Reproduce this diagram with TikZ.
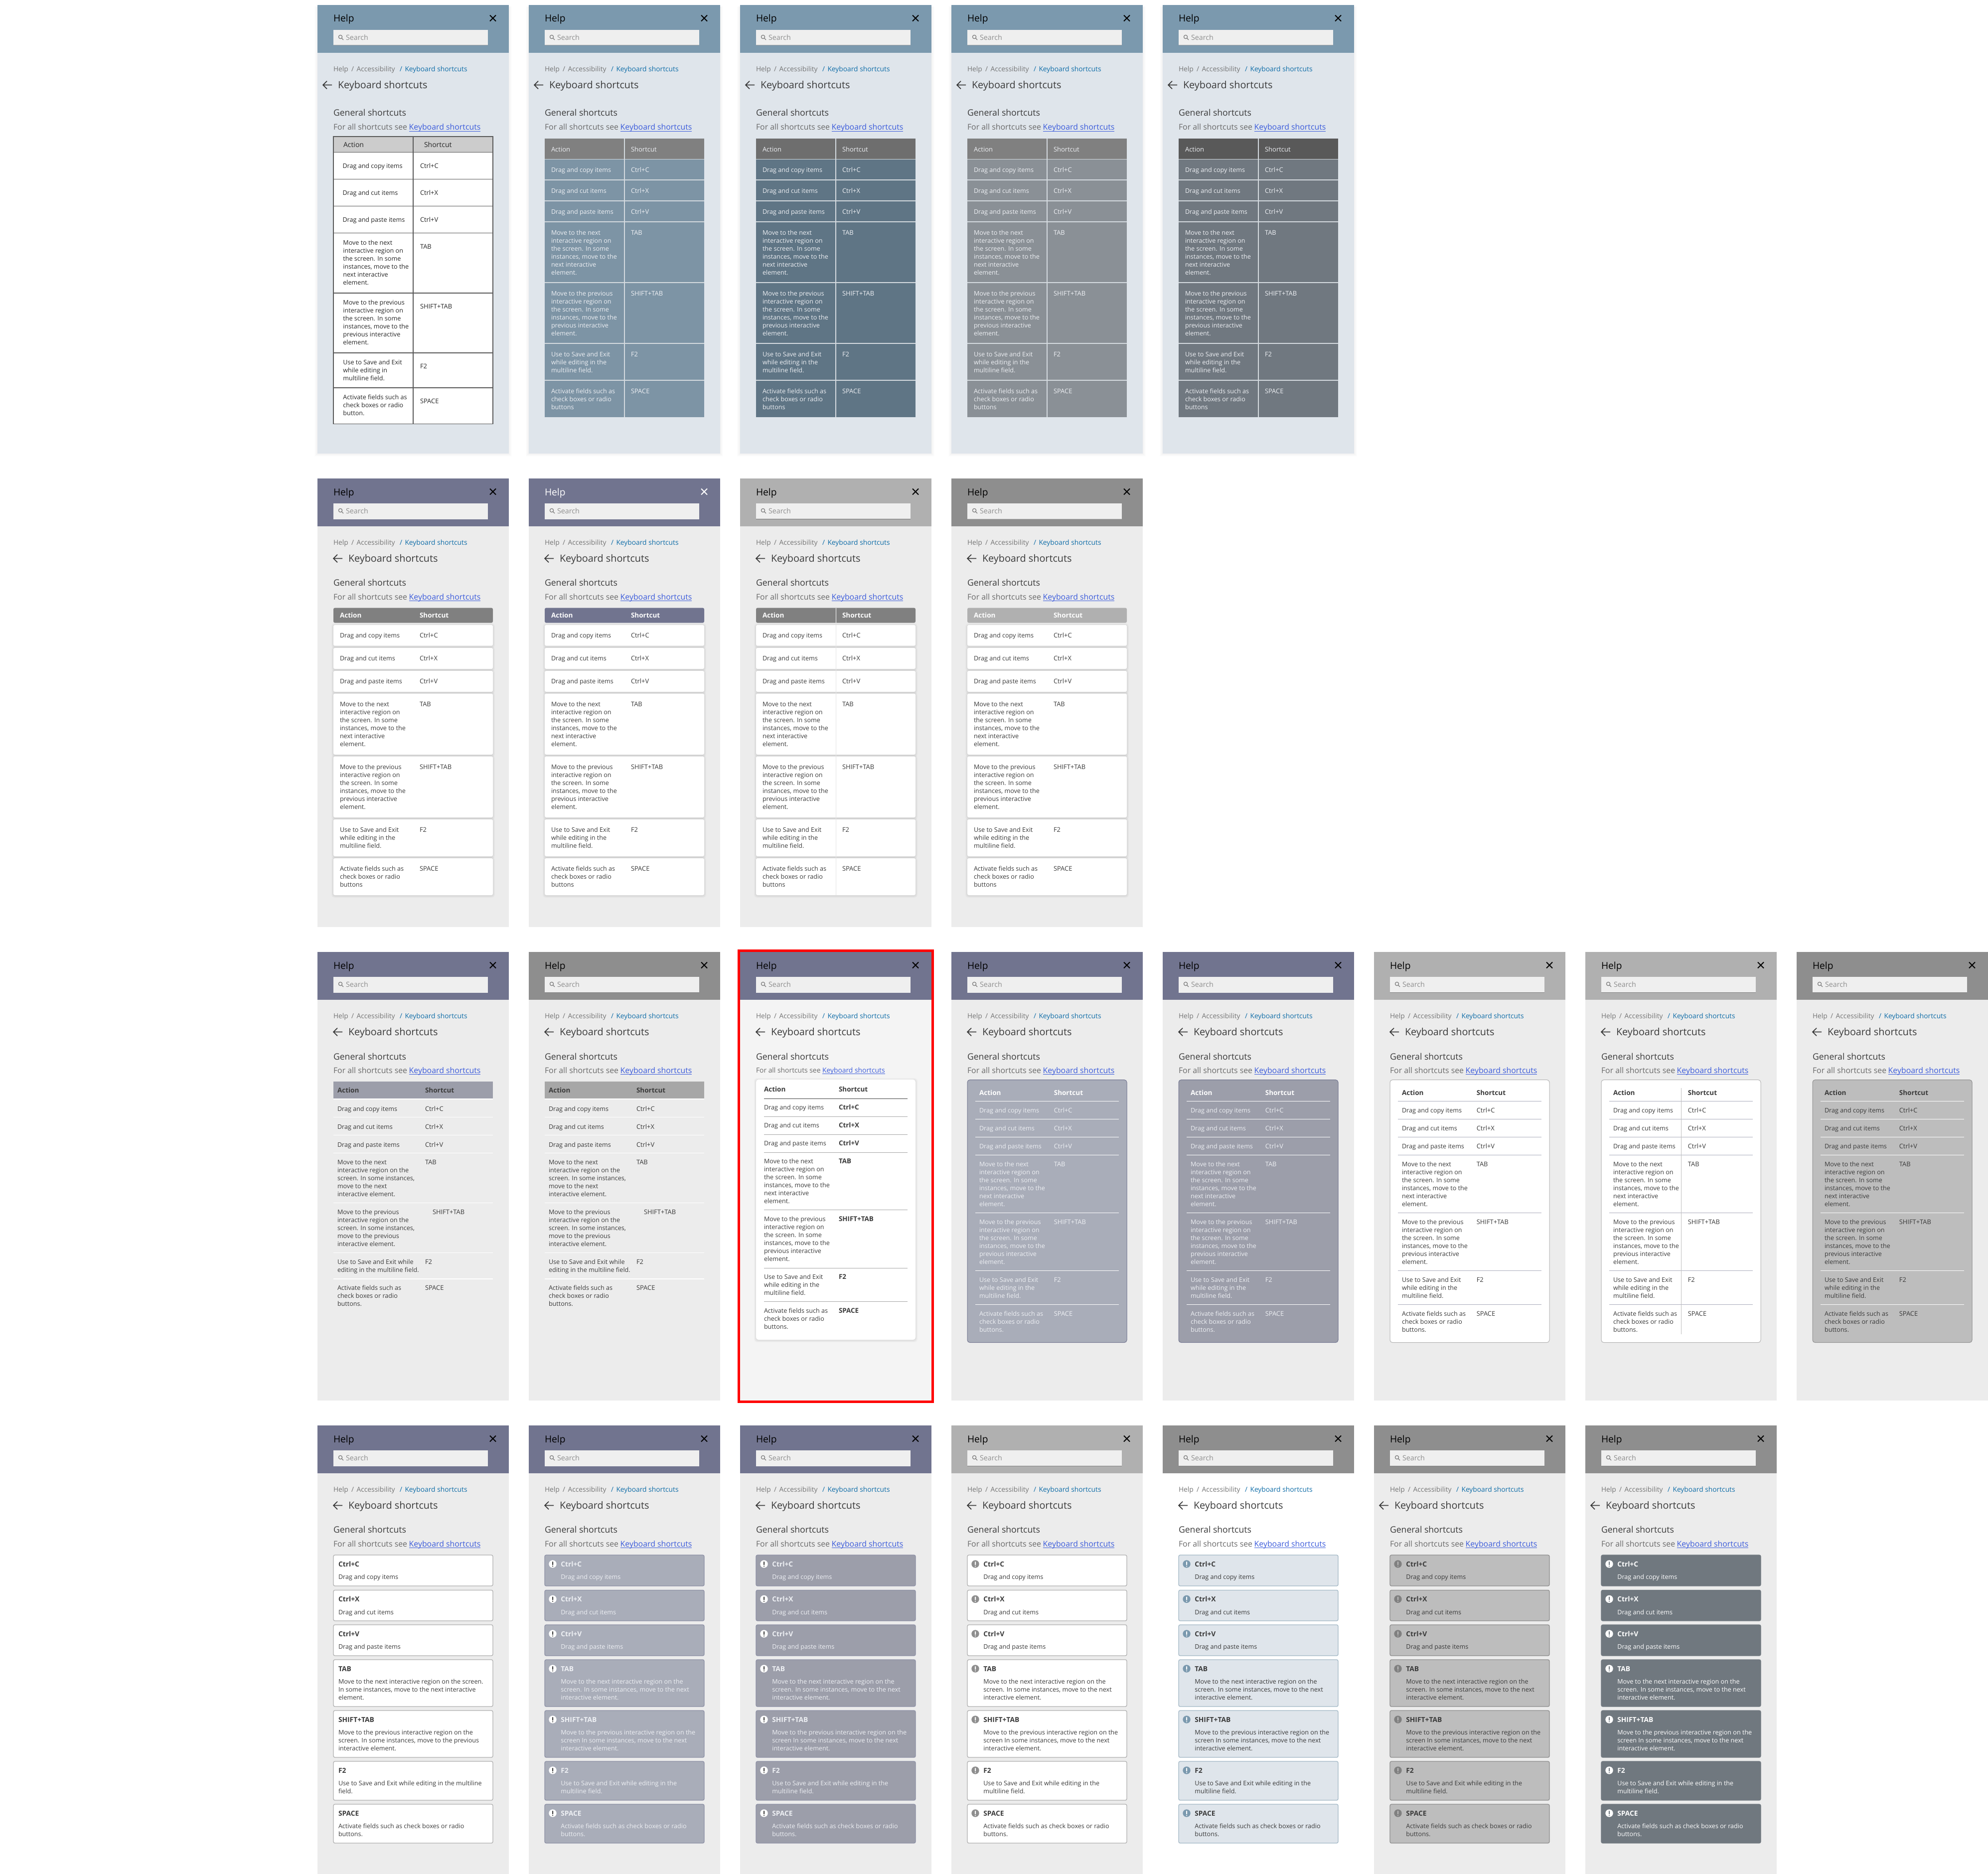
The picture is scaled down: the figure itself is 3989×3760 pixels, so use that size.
\documentclass[tikz,border=0pt]{standalone}
\usepackage{fontspec}
\setmainfont{Open Sans}
\newcounter{nn}
\definecolor{hBlue}{HTML}{7B99AE}\definecolor{bBlue}{HTML}{DFE5EB}
\definecolor{hInd}{HTML}{71748F}\definecolor{bGray}{HTML}{ECECEC}
\definecolor{hLt}{HTML}{B0B0B0}\definecolor{hDk}{HTML}{8E8E8E}
\definecolor{bHi}{HTML}{F4F4F4}\definecolor{srch}{HTML}{EFEFEF}
\definecolor{crumb}{HTML}{757575}\definecolor{crumbL}{HTML}{0F6DA8}
\definecolor{linkB}{HTML}{3B5BDB}\definecolor{ink}{HTML}{3A3A3A}
\definecolor{ink2}{HTML}{6A6A6A}\definecolor{pale}{HTML}{EEF0F4}
\definecolor{ivy}{HTML}{A9ADB9}\definecolor{ivz}{HTML}{9C9EAA}
\definecolor{gry}{HTML}{BDBDBD}\definecolor{slate}{HTML}{70787F}
\definecolor{rA}{HTML}{7D94A5}\definecolor{rB}{HTML}{5F7585}
\definecolor{rC}{HTML}{8A9096}\definecolor{rD}{HTML}{707880}
\definecolor{sepL}{HTML}{D4DADF}
\tikzset{
 tx/.style={anchor=base west,inner sep=0pt,outer sep=0pt},
 helpT/.style={tx,font=\fontsize{19.2}{24}\selectfont},
 srchT/.style={tx,font=\fontsize{14.3}{16}\selectfont,text=hDk},
 crumbT/.style={tx,font=\fontsize{13.8}{16}\selectfont,text=crumb},
 titleT/.style={tx,font=\fontsize{19.8}{24}\selectfont,text=ink},
 genT/.style={tx,font=\fontsize{17.6}{20}\selectfont,text=ink},
 mlt/.style={anchor=north west,inner sep=0pt,outer sep=0pt,align=left},
 cell/.style={font=\fontsize{12.6}{16}\selectfont,text=tcol},
 sk/.style={font=\skfont\fontsize{\sks}{16}\selectfont,text=tcol},
 hd/.style={font=\hdfont\fontsize{\hds}{16}\selectfont,text=hcol},
}
\newcommand\Txt[4][]{\stepcounter{nn}\node[tx,#1] (n\thenn) at (#2,#3) {#4};}
\newcommand\Mlt[4][]{\stepcounter{nn}\node[mlt,#1] (n\thenn) at (#2,#3+4.3-12) {\rule{0pt}{12pt}#4};}
\newcommand\SoftShadow[4]{\foreach \k in {4,3,2,1}{\fill[black,opacity=.018,rounded corners=5pt] (#1-\k,#2-\k+1) rectangle (#3+\k,#4+\k+1);}}
\def\MoveN{Move to the next\\interactive region on\\the screen. In some\\instances, move to the\\next interactive\\element.}
\def\MoveP{Move to the previous\\interactive region on\\the screen. In some\\instances, move to the\\previous interactive\\element.}
\def\UseS{Use to Save and Exit\\while editing in the\\multiline field.}
\def\Act{Activate fields such as\\check boxes or radio\\buttons.}
\def\Hshadow{0}
\def\faSize{15.85}\def\faLink{183.7}
% panel: col, top y, head, body, help colour, arrow x, search line colour, content
\newcommand\Panel[8]{%
\begin{scope}[shift={(637+424*#1,#2)}]
 \ifnum\Hshadow=1 \foreach \k in {6,5,4,3,2,1}{\fill[black,opacity=.009] (-\k,3) rectangle (384+\k,900+\k);}\fi
 \fill[#4] (0,0) rectangle (384,900);
 \fill[#3] (0,0) rectangle (384,96);
 \Txt[helpT,text=#5]{32}{34}{Help}
 \draw[#5,line width=1.9pt] (346,20.5) -- (358,32.5) (358,20.5) -- (346,32.5);
 \fill[srch] (32,50) rectangle (342,81);
 \draw[#7,line width=1pt] (32,81) -- (342,81);
 \draw[hDk!85!black,line width=1.2pt] (46,64) circle (3.6pt) (48.6,66.6) -- (52,70);
 \Txt[srchT]{57}{70.4}{Search}
 \Txt[crumbT]{32}{133.5}{Help}
 \Txt[crumbT]{68}{133.5}{/}
 \Txt[crumbT]{78.6}{133.5}{Accessibility}
 \Txt[crumbT,text=crumbL]{165}{133.5}{/}
 \Txt[crumbT,text=crumbL]{175.5}{133.5}{Keyboard shortcuts}
 \draw[ink,line width=1.7pt] (#6,160.5) -- (#6+18,160.5) (#6+8,152.7) -- (#6,160.5) -- (#6+8,168.3);
 \Txt[titleT]{#6+30}{167.8}{Keyboard shortcuts}
 \Txt[genT]{32}{\gsBase}{General shortcuts}
 \Txt[tx,text=ink2,font=\fontsize{\faSize}{20}\selectfont]{32}{\faBase}{For all shortcuts see}
 \Txt[tx,text=linkB,font=\fontsize{\faSize}{20}\selectfont]{\faLink}{\faBase}{Keyboard shortcuts}
 \draw[linkB,line width=.9pt] ([yshift=-2pt]n\thenn.base west) -- ([yshift=-2pt]n\thenn.base east);
 #8
\end{scope}}
% table text
\def\skfont{}\def\hdfont{\bfseries}\def\sko{0}\def\sks{12.9}\def\hds{13.5}
\newcommand\TblText{%
 \Txt[hd]{\hxa}{\yh+4.6}{Action}\Txt[hd]{\hxb}{\yh+4.6}{Shortcut}
 \Txt[cell]{\xa}{\ya+4.3}{Drag and copy items}\Txt[sk]{\xb}{\ya+4.3}{Ctrl+C}
 \Txt[cell]{\xa}{\yb+4.3}{Drag and cut items}\Txt[sk]{\xb}{\yb+4.3}{Ctrl+X}
 \Txt[cell]{\xa}{\yc+4.3}{Drag and paste items}\Txt[sk]{\xb}{\yc+4.3}{Ctrl+V}
 \Mlt[cell]{\xm}{\yd}{\MoveN}\Txt[sk]{\xb}{\yd+\sko+4.3}{TAB}
 \Mlt[cell]{\xm}{\ye}{\MoveP}\Txt[sk]{\xs}{\ye+\sko+4.3}{SHIFT+TAB}
 \Mlt[cell]{\xm}{\yf}{\UseS}\Txt[sk]{\xb}{\yf+\sko+4.3}{F2}
 \Mlt[cell]{\xm}{\yg}{\Act}\Txt[sk]{\xb}{\yg+\sko+4.3}{SPACE}}
\newcommand\SetX[4]{\def\xa{#1}\def\xm{#1}\def\xb{#2}\def\xs{#2}\def\hxa{#3}\def\hxb{#4}}
\newcommand\SetYa[4]{\def\yh{#1}\def\ya{#2}\def\yb{#3}\def\yc{#4}}
\newcommand\SetYb[4]{\def\yd{#1}\def\ye{#2}\def\yf{#3}\def\yg{#4}}
% row 1 wireframe
\newcommand\WireTable{%
 \fill[white] (32,264) rectangle (352,840.6);
 \fill[black!20] (32,264) rectangle (352,295.6);
 \draw[black!65,line width=1.2pt] (32,264) rectangle (352,840.6);
 \draw[black!65,line width=1.2pt] (192,264) -- (192,840.6);
 \foreach \v in {295.6,349.5,403.5,457.4,578,698,768}{\draw[black!65,line width=1.2pt] (32,\v) -- (352,\v);}
 \colorlet{tcol}{black!85}\colorlet{hcol}{black!85}
 \def\hdfont{}\def\sko{8}\def\hds{14}
 \def\UseS{Use to Save and Exit\\while editing in\\multiline field.}
 \def\Act{Activate fields such as\\check boxes or radio\\button.}
 \SetX{50.5}{206}{52}{214}\def\xm{51.4}
 \SetYa{280.6}{323}{377}{431}\SetYb{477}{597}{717}{787}
 \TblText}
% row 1 filled
\newcommand\FillTable[3]{%
 \fill[#2] (32,268) rectangle (352,827);
 \fill[#1] (32,268) rectangle (352,309.4);
 \foreach \v in {309.4,351,393,435,557,679,753}{\draw[sepL,line width=1.8pt] (32,\v) -- (352,\v);}
 \draw[sepL,line width=1.8pt] (192,268) -- (192,827);
 \colorlet{tcol}{#3}\colorlet{hcol}{#3}\def\hdfont{}\def\hds{13}
 \def\Act{Activate fields such as\\check boxes or radio\\buttons}
 \SetX{45}{205}{45}{205}
 \SetYa{289.6}{331}{373.5}{415.5}\SetYb{457.4}{579}{701}{775}
 \TblText}
% row 2 cards
\newcommand\CardTable[3]{%
 \fill[#1,rounded corners=3pt] (32,259.6) rectangle (352,289.6);
 \foreach \p/\q in {294/335.7,340/382,386/428,431.6/554,557.6/680,684/758,762/836}{%
  \SoftShadow{32}{\p}{352}{\q}
  \fill[white,rounded corners=3pt] (32,\p) rectangle (352,\q);}
 #3
 \colorlet{tcol}{ink}\colorlet{hcol}{#2}
 \def\Act{Activate fields such as\\check boxes or radio\\buttons}
 \SetX{45}{205}{45}{205}
 \SetYa{275}{315}{361}{407}\SetYb{453}{579}{705}{783}
 \TblText}
% row 3 flat
\newcommand\FlatTable[1]{%
 \fill[#1] (32,260) rectangle (352,295);
 \foreach \v in {295,331.5,367.5,403.5,503.6,603.7,656}{\draw[white,line width=1.2pt] (32,\v) -- (352,\v);}
 \colorlet{tcol}{ink}\colorlet{hcol}{ink}
 \def\MoveN{Move to the next\\interactive region on the\\screen. In some instances,\\move to the next\\interactive element.}
 \def\MoveP{Move to the previous\\interactive region on the\\screen. In some instances,\\move to the previous\\interactive element.}
 \def\UseS{Use to Save and Exit while\\editing in the multiline field.}
 \SetX{40}{216}{40}{216}\def\xs{231}
 \SetYa{278}{315}{351}{387}\SetYb{422.6}{522}{622}{674.5}
 \TblText}
% row 3 lined card
\newcommand\LineCard[6]{% fill, border, line, text, header text, extra
 \fill[#1,draw=#2,line width=1pt,rounded corners=5pt] (32,256.6) rectangle (352,783.6);
 \foreach \v in {299.8,335.7,371.7,407.7,523.4,639.7,707.5}{\draw[#3,line width=1pt] (48,\v) -- (336,\v);}
 #6
 \colorlet{tcol}{#4}\colorlet{hcol}{#5}
 \SetX{56}{205.8}{56}{205.8}
 \SetYa{282.4}{318.4}{354.4}{390.4}\SetYb{426}{542.6}{658}{726.6}
 \TblText}
% row 4 cards
\def\cN{Move to the next interactive region on the\\screen. In some instances, move to the next\\interactive element.}
\def\cP{Move to the previous interactive region on the\\screen In some instances, move to the next\\interactive element.}
\def\cU{Use to Save and Exit while editing in the\\multiline field.}
\def\cA{Activate fields such as check boxes or radio\\buttons.}
\newcommand\KCard[4]{%
 \fill[cfill,draw=cbord,line width=1.3pt,rounded corners=3pt] (32,#1) rectangle (352,#2);
 \ifnum\cicon=1
  \fill[cic] (48,#1+18) circle (7.7pt);
  \fill[cmk,rounded corners=.6pt] (47,#1+13.2) rectangle (49,#1+20);
  \fill[cmk] (48,#1+22.4) circle (1.2pt);
 \fi
 \Txt[tx,font=\bfseries\fontsize{13.8}{16}\selectfont,text=cbold]{\cx}{#1+23.5}{#3}
 \Mlt[cell]{\cx}{#1+44.6}{#4}}
\newcommand\KeyCards[7]{% icon flag, fill, border, icon, mark, bold, text
 \def\cicon{#1}\colorlet{cfill}{#2}\colorlet{cbord}{#3}\colorlet{cic}{#4}\colorlet{cmk}{#5}\colorlet{cbold}{#6}\colorlet{tcol}{#7}
 \ifnum#1=1 \def\cx{64.3}\else\def\cx{42}\fi
 \KCard{260}{322}{Ctrl+C}{Drag and copy items}
 \KCard{330.4}{392}{Ctrl+X}{Drag and cut items}
 \KCard{400}{462}{Ctrl+V}{Drag and paste items}
 \KCard{470}{564}{TAB}{\cN}
 \KCard{572}{666}{SHIFT+TAB}{\cP}
 \KCard{674}{752}{F2}{\cU}
 \KCard{760}{838}{SPACE}{\cA}}
\begin{document}
\begin{tikzpicture}[x=1pt,y=-1pt]
\useasboundingbox (0,0) rectangle (3989,3760);
\fill[white] (0,0) rectangle (3989,3760);
% ROW 1
\def\Hshadow{1}\def\gsBase{223}\def\faBase{251}
\Panel{0}{10}{hBlue}{bBlue}{black}{11}{black!35}{\WireTable}
\Panel{1}{10}{hBlue}{bBlue}{black}{11}{black!35}{\FillTable{black!50}{rA}{pale}}
\Panel{2}{10}{hBlue}{bBlue}{black}{11}{black!35}{\FillTable{black!57}{rB}{pale}}
\Panel{3}{10}{hBlue}{bBlue}{black}{11}{black!35}{\FillTable{black!50}{rC}{pale}}
\Panel{4}{10}{hBlue}{bBlue}{black}{11}{black!35}{\FillTable{black!65}{rD}{pale}}
% ROW 2
\def\Hshadow{0}\def\gsBase{215}\def\faBase{243}
\Panel{0}{960}{hInd}{bGray}{black}{32}{srch}{\CardTable{black!50}{white}{}}
\Panel{1}{960}{hInd}{bGray}{white}{32}{srch}{\CardTable{hInd}{white}{}}
\Panel{2}{960}{hLt}{bGray}{black}{32}{black!55}{\CardTable{black!50}{white}{\draw[white,line width=1pt] (192,259.6) -- (192,289.6);\draw[black!10,line width=.8pt] (192,294) -- (192,836);}}
\Panel{3}{960}{hDk}{bGray}{black}{32}{black!30}{\CardTable{hLt}{white}{}}
% ROW 3
\def\gsBase{216}\def\faBase{243.4}
\Panel{0}{1910}{hInd}{bGray}{black}{32}{srch}{\FlatTable{ivz}}
\Panel{1}{1910}{hDk}{bGray}{black}{32}{black!50}{\FlatTable{hLt!95!black}}
{\def\faSize{13.86}\def\faLink{165}\def\faBase{242}
\Panel{2}{1910}{hInd}{bHi}{black}{32}{srch}{%
 \SoftShadow{32}{256}{352}{778}
 \fill[white,rounded corners=5pt] (32,256) rectangle (352,778);
 \foreach \v in {330,366,402,517,634,701.5}{\draw[black!35,line width=.8pt] (48,\v) -- (336,\v);}
 \draw[black!75,line width=1pt] (48,294) -- (336,294);
 \colorlet{tcol}{ink}\colorlet{hcol}{ink}\def\skfont{\bfseries}\def\sks{13.4}
 \SetX{48}{198}{48}{198}
 \SetYa{276}{312}{348}{384}\SetYb{420}{536.6}{652}{720.6}
 \TblText}}
\Panel{3}{1910}{hInd}{bGray}{black}{32}{srch}{\LineCard{ivy}{hInd}{white}{pale}{white}{}}
\Panel{4}{1910}{hInd}{bGray}{black}{32}{srch}{\LineCard{ivz}{hInd}{white}{pale}{white}{}}
\Panel{5}{1910}{hLt}{bGray}{black}{32}{black!50}{\LineCard{white}{black!30}{hInd!60}{ink}{ink}{}}
\Panel{6}{1910}{hLt}{bGray}{black}{32}{black!50}{\LineCard{white}{black!30}{hInd!60}{ink}{ink}{\draw[black!25,line width=.8pt] (192,273) -- (192,767);}}
\Panel{7}{1910}{hDk}{bGray}{black}{32}{black!50}{\LineCard{gry}{hDk}{white}{ink}{ink}{}}
% ROW 4
\def\gsBase{215.5}\def\faBase{243}
\Panel{0}{2860}{hInd}{bGray}{black}{32}{srch}{%
 \def\cN{Move to the next interactive region on the screen.\\In some instances, move to the next interactive\\element.}
 \def\cP{Move to the previous interactive region on the\\screen. In some instances, move to the previous\\interactive element.}
 \def\cU{Use to Save and Exit while editing in the multiline\\field.}
 \KeyCards{0}{white}{hLt}{white}{white}{ink}{ink}
}
\Panel{1}{2860}{hInd}{bGray}{black}{32}{srch}{\KeyCards{1}{ivy}{hInd!80}{white}{ink}{pale}{pale}}
\Panel{2}{2860}{hInd}{bGray}{black}{32}{srch}{\KeyCards{1}{ivz}{hInd!80}{white}{ink}{pale}{pale}}
\Panel{3}{2860}{hLt}{bGray}{black}{32}{black!50}{\KeyCards{1}{white}{hLt}{hDk}{white}{ink}{ink}}
\Panel{4}{2860}{hDk}{white}{black}{32}{black!50}{\KeyCards{1}{bBlue}{hBlue!70}{hBlue}{white}{ink}{ink}}
\Panel{5}{2860}{hDk}{bGray}{black}{11}{black!50}{\KeyCards{1}{gry}{hDk}{black!50}{gry}{ink}{ink}}
\Panel{6}{2860}{hDk}{bGray}{black}{11}{black!50}{\KeyCards{1}{slate}{slate}{white}{slate}{white}{white}}
\draw[red,line width=5pt] (1482.5,1907.5) rectangle (1871.5,2812.5);
\end{tikzpicture}
\end{document}
